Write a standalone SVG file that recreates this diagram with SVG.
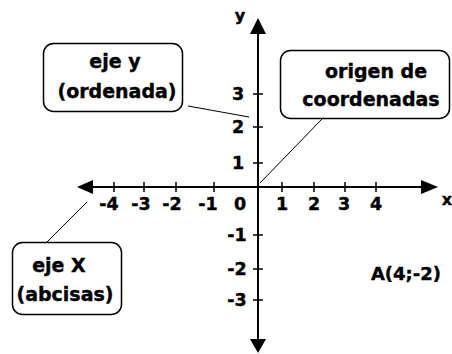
<svg xmlns="http://www.w3.org/2000/svg" width="452" height="354" viewBox="0 0 452 354">
<style>
.t{font-family:"DejaVu Sans",sans-serif;font-weight:bold;fill:#000;stroke:#000;stroke-width:0.4}
.lbl{font-size:19px;text-anchor:middle}
.num{font-size:17.5px;text-anchor:middle}
.box{fill:#fff;stroke:#000;stroke-width:1.5}
.ax{stroke:#000;stroke-width:2;fill:none}
.tk{stroke:#000;stroke-width:1.5}
.ln{stroke:#000;stroke-width:1;fill:none}
</style>
<rect width="452" height="354" fill="#fff"/>
<g id="axes">
<line class="ax" x1="88" y1="187" x2="428" y2="187"/>
<line class="ax" x1="258" y1="30" x2="258" y2="343"/>
<polygon points="77,187 93,180 93,194" fill="#000"/>
<polygon points="438,187 421,180 421,194" fill="#000"/>
<polygon points="258,18 250,34 266,34" fill="#000"/>
<polygon points="258,353 250,339 266,339" fill="#000"/>
<g class="tk">
<line x1="114" y1="182" x2="114" y2="192"/>
<line x1="144" y1="182" x2="144" y2="192"/>
<line x1="176" y1="182" x2="176" y2="192"/>
<line x1="214" y1="182" x2="214" y2="192"/>
<line x1="282" y1="182" x2="282" y2="192"/>
<line x1="314" y1="182" x2="314" y2="192"/>
<line x1="345" y1="182" x2="345" y2="192"/>
<line x1="376" y1="182" x2="376" y2="192"/>
<line x1="253" y1="94" x2="263" y2="94"/>
<line x1="253" y1="127" x2="263" y2="127"/>
<line x1="253" y1="163" x2="263" y2="163"/>
<line x1="253" y1="235" x2="263" y2="235"/>
<line x1="253" y1="269" x2="263" y2="269"/>
<line x1="253" y1="300" x2="263" y2="300"/>
</g>
<g class="t num">
<text x="109" y="210">-4</text>
<text x="141" y="210">-3</text>
<text x="172" y="210">-2</text>
<text x="208" y="210">-1</text>
<text x="240" y="210">0</text>
<text x="282" y="210">1</text>
<text x="314" y="210">2</text>
<text x="344" y="210">3</text>
<text x="376" y="210">4</text>
<text x="238" y="100">3</text>
<text x="238" y="133">2</text>
<text x="238" y="169">1</text>
<text x="237" y="241">-1</text>
<text x="237" y="275">-2</text>
<text x="237" y="306">-3</text>
</g>
<text class="t" x="447" y="205" font-size="16" text-anchor="middle">x</text>
<text class="t" x="240" y="21" font-size="16" text-anchor="middle">y</text>
</g>
<g id="connectors">
<line class="ln" x1="188" y1="106" x2="249" y2="117"/>
<line class="ln" x1="322" y1="119" x2="260" y2="183"/>
<line class="ln" x1="47" y1="242" x2="87" y2="202"/>
</g>
<g id="eje-y">
<rect class="box" x="43.5" y="43.5" width="139" height="68" rx="10"/>
<text class="t lbl" x="115" y="68">eje y</text>
<text class="t lbl" x="117" y="98">(ordenada)</text>
</g>
<g id="origen">
<rect class="box" x="280.5" y="50.5" width="169" height="68" rx="10"/>
<text class="t lbl" x="376" y="78">origen de</text>
<text class="t lbl" x="371" y="106">coordenadas</text>
</g>
<g id="eje-x">
<rect class="box" x="12.5" y="242.5" width="109" height="72" rx="10"/>
<text class="t lbl" x="59" y="272">eje X</text>
<text class="t lbl" x="65" y="301">(abcisas)</text>
</g>
<g id="punto-A">
<text class="t" x="406" y="280" font-size="18" text-anchor="middle">A(4;-2)</text>
</g>
</svg>
